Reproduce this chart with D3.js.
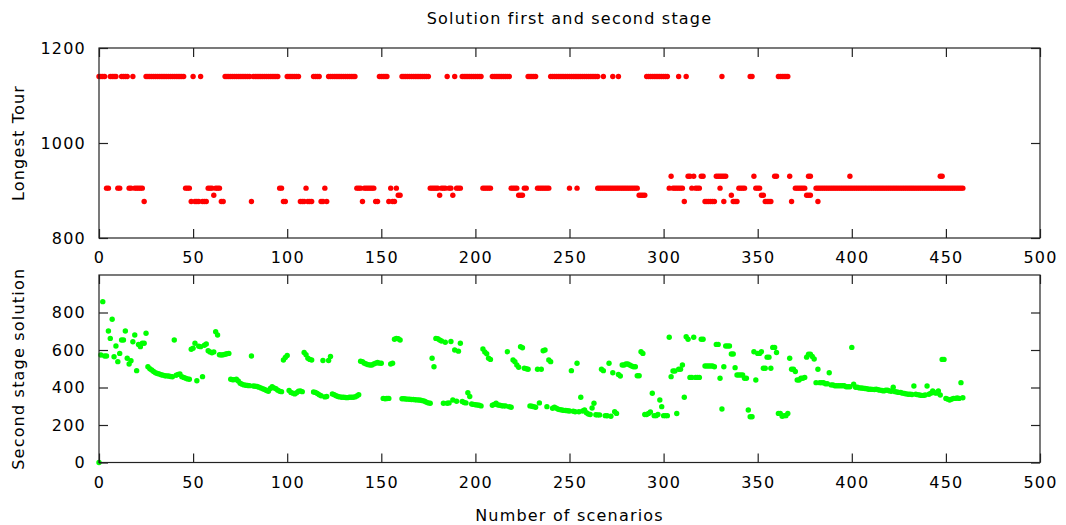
<!DOCTYPE html>
<html>
<head>
<meta charset="utf-8">
<script src="https://cdn.jsdelivr.net/npm/d3@7"></script>
<style>
  body { margin: 0; background: #fff; }
  text { font-family: "DejaVu Sans", Verdana, sans-serif; fill: #000; letter-spacing: 1.2px; }
</style>
</head>
<body>
<script>
// scenario ranges [from, to, longest tour]
const longestTourRuns = [
  [0, 3, 1140], [4, 5, 905], [6, 9, 1140], [10, 11, 905], [12, 15, 1140],
  [16, 17, 905], [18, 18, 1140], [19, 23, 905], [24, 24, 877], [25, 45, 1140],
  [46, 48, 905], [49, 49, 877], [50, 50, 1140], [51, 53, 877], [54, 54, 1140],
  [55, 57, 877], [58, 60, 905], [61, 61, 890], [62, 64, 905], [65, 66, 877],
  [67, 80, 1140], [81, 81, 877], [82, 95, 1140], [96, 97, 905], [98, 99, 877],
  [100, 106, 1140], [107, 109, 877], [110, 110, 905], [111, 113, 877],
  [114, 117, 1140], [118, 119, 877], [120, 120, 905], [121, 121, 877],
  [122, 136, 1140], [137, 139, 905], [140, 140, 877], [141, 146, 905],
  [147, 148, 877], [149, 153, 1140], [154, 154, 877], [155, 155, 905],
  [156, 157, 877], [158, 158, 905], [159, 160, 890], [161, 175, 1140],
  [176, 180, 905], [181, 181, 890], [182, 184, 905], [185, 185, 1140],
  [186, 187, 905], [188, 188, 890], [189, 189, 1140], [190, 192, 905],
  [193, 203, 1140], [204, 208, 905], [209, 218, 1140], [219, 222, 905],
  [223, 225, 890], [226, 227, 905], [228, 232, 1140], [233, 239, 905],
  [240, 265, 1140], [250, 250, 905], [254, 254, 905], [265, 286, 905],
  [268, 268, 1140], [273, 273, 1140], [276, 276, 1140], [287, 290, 890],
  [291, 302, 1140], [303, 303, 905], [304, 304, 930], [305, 310, 905],
  [308, 308, 1140], [311, 311, 877], [312, 312, 1140], [313, 314, 930],
  [315, 315, 905], [316, 316, 930], [317, 319, 905], [320, 321, 930],
  [322, 327, 877], [328, 333, 930], [330, 330, 905], [331, 331, 1140],
  [332, 332, 877], [336, 336, 890], [337, 339, 877], [340, 343, 905],
  [346, 347, 1140], [348, 348, 930], [349, 351, 905], [352, 353, 890],
  [354, 357, 877], [359, 360, 930], [361, 366, 1140], [367, 367, 930],
  [368, 368, 877], [370, 375, 905], [376, 378, 890], [377, 378, 930],
  [381, 459, 905], [382, 382, 877], [399, 399, 930], [447, 448, 930]
];

// second stage solution, one value per scenario (index = scenario)
const secondStage = [
  0, 573, 858, 568, 568, 701, 662, 764, 564, 621,
  538, 582, 653, 653, 701, 556, 525, 543, 644, 680,
  490, 630, 618, 636, 636, 689, 511, 500, 493, 485,
  479, 475, 472, 468, 466, 463, 462, 461, 459, 457,
  653, 465, 470, 472, 458, 454, 450, 446, 444, 604,
  610, 636, 436, 620, 618, 458, 625, 632, 596, 590,
  585, 590, 698, 680, 575, 573, 575, 577, 580, 582,
  444, 441, 442, 444, 435, 423, 418, 414, 412, 411,
  410, 568, 408, 407, 405, 402, 398, 393, 389, 384,
  380, 395, 404, 398, 393, 386, 380, 378, 547, 560,
  571, 384, 374, 370, 366, 372, 380, 382, 378, 587,
  575, 556, 550, 547, 376, 374, 368, 361, 356, 544,
  350, 352, 544, 565, 366, 361, 356, 352, 350, 348,
  348, 347, 346, 348, 348, 348, 350, 355, 361, 540,
  538, 530, 525, 522, 520, 520, 526, 530, 533, 530,
  529, 342, 340, 341, 342, 525, 529, 657, 662, 660,
  653, 340, 340, 339, 338, 337, 336, 336, 335, 334,
  333, 332, 330, 327, 322, 318, 316, 556, 511, 662,
  660, 653, 648, 316, 641, 316, 318, 645, 333, 600,
  327, 594, 636, 325, 320, 318, 372, 352, 312, 310,
  308, 307, 305, 302, 605, 590, 580, 556, 550, 305,
  310, 316, 307, 305, 303, 302, 302, 591, 298, 295,
  547, 538, 520, 508, 618, 612, 503, 500, 497, 302,
  300, 298, 295, 497, 318, 497, 596, 600, 298, 547,
  538, 289, 295, 290, 284, 282, 280, 278, 277, 276,
  275, 490, 273, 271, 529, 271, 348, 275, 280, 265,
  259, 256, 291, 316, 255, 254, 254, 497, 490, 250,
  249, 529, 247, 479, 271, 262, 470, 461, 520, 520,
  525, 525, 520, 515, 511, 511, 463, 463, 591, 582,
  256, 256, 262, 269, 369, 250, 250, 256, 333, 298,
  250, 250, 250, 668, 458, 488, 488, 261, 497, 497,
  520, 348, 671, 657, 454, 454, 668, 454, 454, 454,
  657, 657, 515, 515, 515, 515, 515, 511, 630, 630,
  449, 285, 511, 621, 621, 621, 579, 579, 506, 467,
  467, 467, 467, 449, 449, 280, 244, 244, 591, 440,
  582, 582, 591, 503, 503, 562, 562, 503, 614, 614,
  587, 262, 262, 247, 250, 250, 262, 556, 497, 497,
  485, 440, 440, 449, 449, 454, 562, 578, 578, 566,
  552, 426, 497, 426, 426, 426, 420, 420, 479, 414,
  414, 409, 409, 409, 409, 409, 409, 404, 404, 404,
  614, 417, 401, 401, 398, 397, 396, 395, 393, 391,
  391, 390, 389, 391, 388, 386, 384, 382, 386, 385,
  382, 380, 401, 378, 376, 374, 373, 370, 368, 366,
  364, 364, 363, 408, 364, 362, 360, 358, 358, 360,
  408, 364, 370, 382, 372, 370, 382, 360, 550, 550,
  342, 338, 333, 338, 342, 342, 344, 342, 426, 345
];

const xTicks = d3.range(0, 501, 50);
const topYTicks = [800, 1000, 1200];
const bottomYTicks = [0, 200, 400, 600, 800];

const W = 1066, H = 525;
const left = 99, right = 1040;
const topPanel = { y0: 48, y1: 238 };
const botPanel = { y0: 275, y1: 462.5 };
const fontSize = 16;

const svg = d3.select("body").append("svg")
  .attr("width", W)
  .attr("height", H);

const x = d3.scaleLinear().domain([0, 500]).range([left, right]);
const yTop = d3.scaleLinear().domain([800, 1200]).range([topPanel.y1, topPanel.y0]);
const yBot = d3.scaleLinear().domain([0, 1000]).range([botPanel.y1, botPanel.y0]);

const tourPoints = longestTourRuns.flatMap(function (r) {
  return d3.range(r[0], r[1] + 1).map(function (s) { return { s: s, v: r[2] }; });
});
const stagePoints = secondStage.map(function (v, i) { return { s: i, v: v }; });

function drawPanel(panel, y, yTicks, yLabel, points, color) {
  const g = svg.append("g");

  // points first, frame on top
  g.append("g").selectAll("circle")
    .data(points)
    .enter()
    .append("circle")
    .attr("cx", function (d) { return x(d.s); })
    .attr("cy", function (d) { return y(d.v); })
    .attr("r", 2.7)
    .attr("fill", color);

  const tick = 9;
  const fmt = d3.format("d");
  // inward ticks on all four sides
  g.append("g")
    .attr("transform", "translate(" + left + ",0)")
    .call(d3.axisLeft(y).tickValues(yTicks).tickFormat(fmt).tickSizeInner(-tick).tickSizeOuter(0).tickPadding(13))
    .call(function (a) { a.select(".domain").remove(); });
  g.append("g")
    .attr("transform", "translate(" + right + ",0)")
    .call(d3.axisRight(y).tickValues(yTicks).tickSizeInner(-tick).tickSizeOuter(0).tickFormat(""))
    .call(function (a) { a.select(".domain").remove(); });
  g.append("g")
    .attr("transform", "translate(0," + panel.y1 + ")")
    .call(d3.axisBottom(x).tickValues(xTicks).tickFormat(fmt).tickSizeInner(-tick).tickSizeOuter(0).tickPadding(14))
    .call(function (a) { a.select(".domain").remove(); });
  g.append("g")
    .attr("transform", "translate(0," + panel.y0 + ")")
    .call(d3.axisTop(x).tickValues(xTicks).tickSizeInner(-tick).tickSizeOuter(0).tickFormat(""))
    .call(function (a) { a.select(".domain").remove(); });

  g.selectAll(".tick line").attr("stroke", "#222").attr("stroke-width", 1.2);
  g.selectAll(".tick text").attr("font-size", fontSize).attr("font-family", null);

  g.append("rect")
    .attr("x", left)
    .attr("y", panel.y0)
    .attr("width", right - left)
    .attr("height", panel.y1 - panel.y0)
    .attr("fill", "none")
    .attr("stroke", "#222")
    .attr("stroke-width", 1.2);

  g.append("text")
    .attr("text-anchor", "middle")
    .attr("transform", "rotate(-90)")
    .attr("x", -(panel.y0 + panel.y1) / 2)
    .attr("y", 24)
    .attr("font-size", fontSize)
    .text(yLabel);
}

drawPanel(topPanel, yTop, topYTicks, "Longest Tour", tourPoints, "#ff0000");
drawPanel(botPanel, yBot, bottomYTicks, "Second stage solution", stagePoints, "#00ff00");

svg.append("text")
  .attr("text-anchor", "middle")
  .attr("x", (left + right) / 2)
  .attr("y", 24)
  .attr("font-size", fontSize)
  .text("Solution first and second stage");

svg.append("text")
  .attr("text-anchor", "middle")
  .attr("x", (left + right) / 2)
  .attr("y", 521)
  .attr("font-size", fontSize)
  .text("Number of scenarios");
</script>
</body>
</html>
